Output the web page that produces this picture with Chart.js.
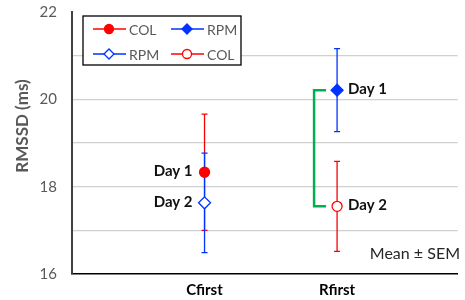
<!DOCTYPE html>
<html>
<head>
<meta charset="utf-8">
<script src="https://cdn.jsdelivr.net/npm/chart.js@4/dist/chart.umd.min.js"></script>
<style>
  html, body { margin: 0; padding: 0; background: #fff; }
</style>
</head>
<body>
<canvas id="chart" width="465" height="300"></canvas>
<script>
// data
const groupNames = ["Cfirst", "Rfirst"];
const groupPos = [1, 2];
const seriesNames = ["COL", "RPM", "RPM", "COL"];
const seriesGroup = [0, 1, 0, 1];
const seriesMean = [18.33, 20.21, 17.63, 17.55];
const seriesSem = [1.33, 0.95, 1.14, 1.03];
const seriesDay = ["Day 1", "Day 1", "Day 2", "Day 2"];
const yTickLabels = [16, 18, 20, 22];

// styles
const RED = "#FF0000";
const BLUE = "#0033FF";
const seriesColor = [RED, BLUE, BLUE, RED];
const seriesShape = ["circle", "rectRot", "rectRot", "circle"];
const seriesFilled = [true, true, false, false];
const labelSide = [-1, 1, -1, 1];
const FONT = "Lato, 'Open Sans', sans-serif";

function drawMarker(ctx, shape, x, y, r, color, filled) {
  ctx.save();
  ctx.beginPath();
  if (shape === "circle") {
    ctx.arc(x, y, r, 0, Math.PI * 2);
  } else {
    ctx.moveTo(x - r, y);
    ctx.lineTo(x, y - r);
    ctx.lineTo(x + r, y);
    ctx.lineTo(x, y + r);
    ctx.closePath();
  }
  ctx.fillStyle = filled ? color : "#fff";
  ctx.fill();
  ctx.lineWidth = 1.3;
  ctx.strokeStyle = color;
  ctx.stroke();
  ctx.restore();
}

function noPad(scale) {
  scale.paddingTop = 0;
  scale.paddingBottom = 0;
  scale.paddingLeft = 0;
  scale.paddingRight = 0;
}

const errorBars = {
  id: "errorBars",
  beforeDatasetsDraw(chart) {
    const ctx = chart.ctx;
    const xs = chart.scales.x;
    const ys = chart.scales.y;
    // red ones first, blue on top
    const order = [0, 3, 1, 2];
    ctx.save();
    ctx.lineWidth = 1.3;
    order.forEach((i) => {
      const px = xs.getPixelForValue(groupPos[seriesGroup[i]]);
      const top = ys.getPixelForValue(seriesMean[i] + seriesSem[i]);
      const bot = ys.getPixelForValue(seriesMean[i] - seriesSem[i]);
      ctx.strokeStyle = seriesColor[i];
      ctx.beginPath();
      ctx.moveTo(px, top);
      ctx.lineTo(px, bot);
      ctx.moveTo(px - 3, top);
      ctx.lineTo(px + 3, top);
      ctx.moveTo(px - 3, bot);
      ctx.lineTo(px + 3, bot);
      ctx.stroke();
    });

    // green bracket between the two Rfirst points
    const bx = xs.getPixelForValue(groupPos[1]);
    const y1 = ys.getPixelForValue(seriesMean[1]);
    const y2 = ys.getPixelForValue(seriesMean[3]);
    ctx.strokeStyle = "#00B050";
    ctx.lineWidth = 2.5;
    ctx.beginPath();
    ctx.moveTo(bx - 11, y1);
    ctx.lineTo(bx - 23, y1);
    ctx.lineTo(bx - 23, y2);
    ctx.lineTo(bx - 11, y2);
    ctx.stroke();
    ctx.restore();
  },
  afterDatasetsDraw(chart) {
    const ctx = chart.ctx;
    const xs = chart.scales.x;
    const ys = chart.scales.y;
    ctx.save();

    // day labels
    ctx.font = "bold 15px " + FONT;
    ctx.fillStyle = "#111";
    ctx.textBaseline = "middle";
    seriesDay.forEach((d, i) => {
      const px = xs.getPixelForValue(groupPos[seriesGroup[i]]);
      const py = ys.getPixelForValue(seriesMean[i]);
      if (labelSide[i] < 0) {
        ctx.textAlign = "right";
        ctx.fillText(d, px - 12, py - 1);
      } else {
        ctx.textAlign = "left";
        ctx.fillText(d, px + 11, py - 1);
      }
    });

    // legend box
    ctx.fillStyle = "#fff";
    ctx.fillRect(83, 16, 158, 49);
    ctx.strokeStyle = "#000";
    ctx.lineWidth = 1.3;
    ctx.strokeRect(83, 16, 158, 49);
    const colX = [93, 171];
    const rowY = [29, 54];
    ctx.font = "14px " + FONT;
    ctx.textAlign = "left";
    ctx.textBaseline = "middle";
    seriesNames.forEach((name, i) => {
      const x0 = colX[i % 2];
      const y0 = rowY[Math.floor(i / 2)];
      ctx.strokeStyle = seriesColor[i];
      ctx.lineWidth = 1.5;
      ctx.beginPath();
      ctx.moveTo(x0, y0);
      ctx.lineTo(x0 + 33, y0);
      ctx.stroke();
      drawMarker(ctx, seriesShape[i], x0 + 16, y0, seriesShape[i] === "circle" ? 4.5 : 5, seriesColor[i], seriesFilled[i]);
      ctx.fillStyle = "#595959";
      ctx.fillText(name, x0 + 36, y0 + 1);
    });

    // note
    ctx.font = "16px " + FONT;
    ctx.fillStyle = "#262626";
    ctx.textAlign = "right";
    ctx.fillText("Mean \u00B1 SEM", 460, 254);

    // y axis title
    ctx.translate(23, 126);
    ctx.rotate(-Math.PI / 2);
    ctx.font = "bold 17px " + FONT;
    ctx.fillStyle = "#595959";
    ctx.textAlign = "center";
    ctx.fillText("RMSSD (ms)", 0, 0);
    ctx.restore();
  },
};

const datasets = seriesNames.map((name, i) => ({
  label: name,
  data: [{ x: groupPos[seriesGroup[i]], y: seriesMean[i] }],
  pointStyle: seriesShape[i],
  pointRadius: seriesShape[i] === "circle" ? 5 : 6,
  pointBackgroundColor: seriesFilled[i] ? seriesColor[i] : "#fff",
  pointBorderColor: seriesColor[i],
  pointBorderWidth: 1.3,
  showLine: false,
}));

new Chart(document.getElementById("chart"), {
  type: "scatter",
  data: { datasets },
  options: {
    responsive: false,
    animation: false,
    devicePixelRatio: 1,
    layout: { padding: { top: 12, right: 0, left: 0, bottom: 0 } },
    plugins: {
      legend: { display: false },
      tooltip: { enabled: false },
    },
    scales: {
      x: {
        type: "linear",
        min: 0,
        max: 2.91,
        afterBuildTicks: (scale) => {
          scale.ticks = groupPos.map((v) => ({ value: v }));
        },
        afterFit: (scale) => {
          scale.height = 26;
          noPad(scale);
        },
        ticks: {
          padding: 7,
          autoSkip: false,
          maxRotation: 0,
          color: "#000",
          font: { family: FONT, size: 15, weight: "bold" },
          callback: (v) => groupNames[groupPos.indexOf(v)] || "",
        },
        grid: { display: false, drawTicks: false },
        border: { color: "#000", width: 1.5 },
      },
      y: {
        min: 16,
        max: 22,
        afterFit: (scale) => {
          scale.width = 72;
          noPad(scale);
        },
        ticks: {
          stepSize: 1,
          padding: 15,
          color: "#595959",
          font: { family: FONT, size: 15 },
          callback: (v) => (yTickLabels.includes(v) ? String(v) : ""),
        },
        grid: {
          drawTicks: false,
          lineWidth: 1.3,
          color: (c) =>
            c.tick && (c.tick.value === 22 || c.tick.value === 16)
              ? "rgba(0,0,0,0)"
              : "#D0D0D0",
        },
        border: { color: "#404040", width: 2 },
      },
    },
  },
  plugins: [errorBars],
});
</script>
</body>
</html>
